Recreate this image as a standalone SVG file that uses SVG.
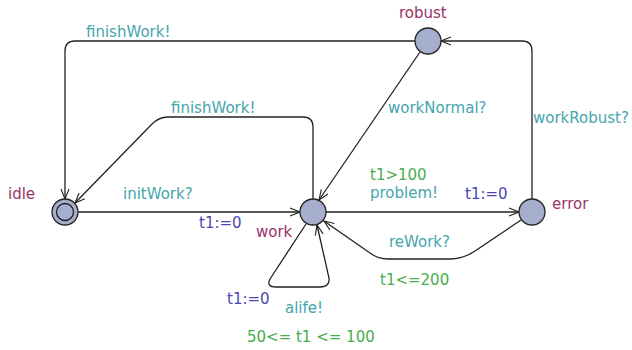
<svg xmlns="http://www.w3.org/2000/svg" width="632" height="350" viewBox="0 0 632 350">
<defs>
<marker id="arr" markerWidth="12" markerHeight="10" refX="11" refY="5" orient="auto" markerUnits="userSpaceOnUse">
<path d="M1,1 L11,5 L1,9" fill="none" stroke="#222" stroke-width="1.1"/>
</marker>
</defs>
<style>
text{font-family:"DejaVu Sans","Liberation Sans",sans-serif;font-size:15px}
.loc{fill:#a5aecd;stroke:#222;stroke-width:1.3}
.e{fill:none;stroke:#222;stroke-width:1.3;marker-end:url(#arr)}
.nm{fill:#993366}
.sy{fill:#45a5ad}
.as{fill:#4848b0}
.gd{fill:#46ad4a}
</style>
<rect width="632" height="350" fill="#fff"/>
<g id="connectors">
<path class="e" d="M415,41 H75 Q65,41 65,51 V199"/>
<path class="e" d="M313,199 V127 Q313,117 303,117 H168 Q159,117 152,124 L75,203"/>
<path class="e" d="M78,212 H300"/>
<path class="e" d="M420,52 L319,200"/>
<path class="e" d="M326,212 H519"/>
<path class="e" d="M532,199 V51 Q532,41 522,41 H441"/>
<path class="e" d="M521,220 L475,251 Q463,259 450,259 H388 Q378,259 370,253 L324,221"/>
<path class="e" d="M306,224 L270,279 Q266,287 276,287 H320 Q330,287 329,278 L317,225"/>
</g>
<g id="idle"><circle class="loc" cx="65" cy="212" r="13"/><circle cx="65" cy="212" r="8.5" fill="none" stroke="#222" stroke-width="1.3"/><text class="nm" x="8" y="199">idle</text></g>
<g id="work"><circle class="loc" cx="313" cy="212" r="13"/><text class="nm" x="256" y="237">work</text></g>
<g id="robust"><circle class="loc" cx="428" cy="41" r="13"/><text class="nm" x="399" y="18">robust</text></g>
<g id="error"><circle class="loc" cx="532" cy="212" r="13"/><text class="nm" x="552" y="209">error</text></g>
<g id="labels">
<text class="sy" x="86" y="37">finishWork!</text>
<text class="sy" x="171" y="113">finishWork!</text>
<text class="sy" x="388" y="113">workNormal?</text>
<text class="sy" x="533" y="123">workRobust?</text>
<text class="gd" x="370" y="180">t1&gt;100</text>
<text class="sy" x="370" y="198">problem!</text>
<text class="as" x="465" y="199">t1:=0</text>
<text class="sy" x="389" y="247">reWork?</text>
<text class="gd" x="380" y="285">t1&lt;=200</text>
<text class="sy" x="123" y="199">initWork?</text>
<text class="as" x="199" y="228">t1:=0</text>
<text class="as" x="227" y="304">t1:=0</text>
<text class="sy" x="285" y="313">alife!</text>
<text class="gd" x="247" y="342">50&lt;= t1 &lt;= 100</text>
</g>
</svg>
